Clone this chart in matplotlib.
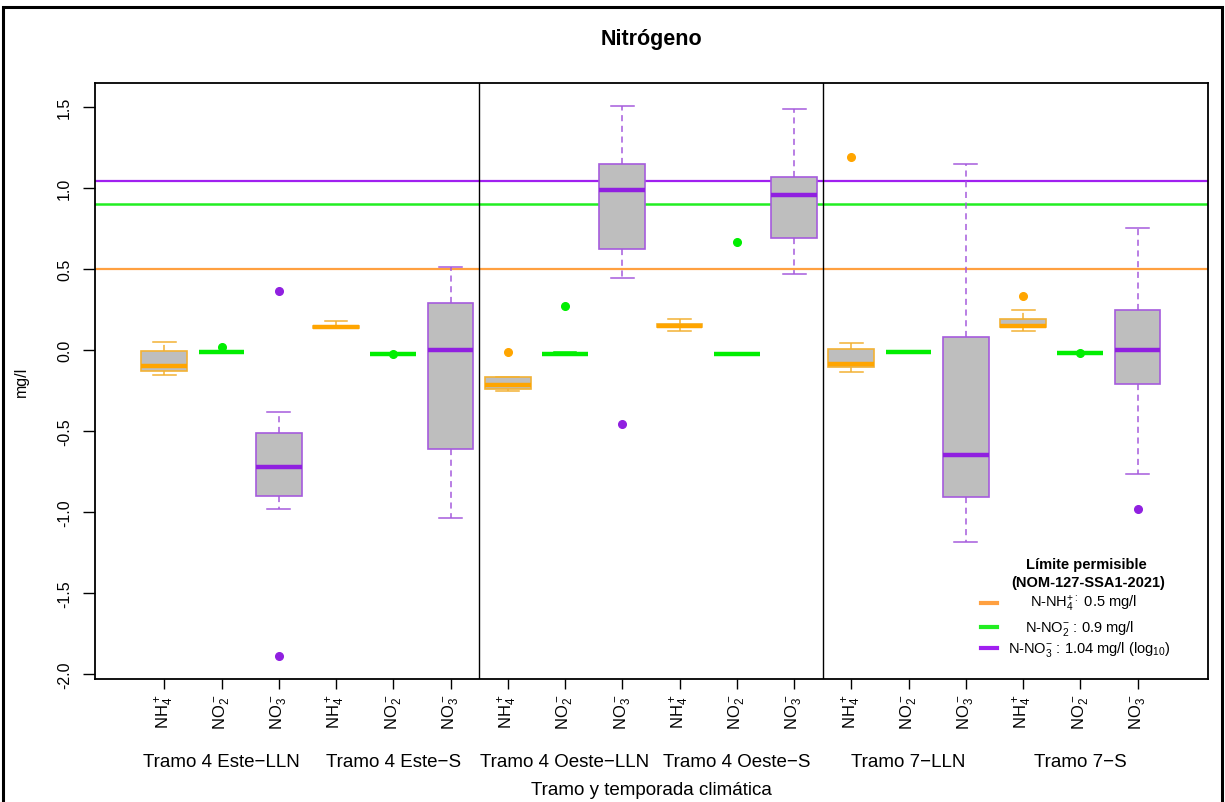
import matplotlib
matplotlib.use("Agg")
import matplotlib.pyplot as plt
from matplotlib.patches import Rectangle
from matplotlib.lines import Line2D

plt.rcParams['font.family'] = ['Liberation Sans', 'DejaVu Sans']
plt.rcParams['mathtext.default'] = 'regular'
plt.rcParams['axes.unicode_minus'] = False

# ---------------- data ----------------
groups = ["Tramo 4 Este\u2212LLN", "Tramo 4 Este\u2212S", "Tramo 4 Oeste\u2212LLN",
          "Tramo 4 Oeste\u2212S", "Tramo 7\u2212LLN", "Tramo 7\u2212S"]
ion_labels = ["NH$_4^+$", "NO$_2^-$", "NO$_3^-$"]

nh4_q1 = [-0.128, 0.138, -0.241, 0.140, -0.107, 0.140]
nh4_med = [-0.100, 0.144, -0.214, 0.150, -0.086, 0.150]
nh4_q3 = [-0.008, 0.150, -0.169, 0.160, 0.006, 0.190]
nh4_lo = [-0.156, 0.138, -0.255, 0.117, -0.134, 0.119]
nh4_hi = [0.047, 0.181, -0.169, 0.191, 0.043, 0.245]
nh4_out = [[], [], [-0.014], [], [1.19], [0.335]]

no2_q1 = [-0.014, -0.027, -0.027, -0.027, -0.014, -0.020]
no2_med = [-0.014, -0.027, -0.025, -0.027, -0.014, -0.020]
no2_q3 = [-0.014, -0.027, -0.022, -0.027, -0.014, -0.020]
no2_lo = [-0.014, -0.027, -0.027, -0.027, -0.014, -0.020]
no2_hi = [-0.014, -0.027, -0.012, -0.027, -0.014, -0.020]
no2_out = [[0.017], [-0.025], [0.273], [0.669], [], [-0.020]]

no3_q1 = [-0.901, -0.611, 0.625, 0.690, -0.909, -0.212]
no3_med = [-0.724, 0.000, 0.986, 0.955, -0.646, -0.002]
no3_q3 = [-0.514, 0.288, 1.146, 1.070, 0.082, 0.245]
no3_lo = [-0.980, -1.037, 0.442, 0.471, -1.183, -0.765]
no3_hi = [-0.380, 0.512, 1.506, 1.486, 1.148, 0.751]
no3_out = [[0.364, -1.890], [], [-0.459], [], [], [-0.980]]

lim_nh4 = 0.5
lim_no2 = 0.9
lim_no3 = 1.04

legend_labels = ["N-NH$_4^{+:}$ 0.5 mg/l", "N-NO$_2^{-}$ : 0.9 mg/l",
                 "N-NO$_3^{-}$ : 1.04 mg/l (log$_{10}$)"]

# ---------------- styles ----------------
FILL = '#BEBEBE'
styles = {
    'nh4': dict(edge='#F2B134', med='#FFA500', line='#FFA040'),
    'no2': dict(edge='#00EE00', med='#00EE00', line='#22EE22'),
    'no3': dict(edge='#A55BDD', med='#9020E0', line='#A020F0'),
}

fig = plt.figure(figsize=(12.25, 8.03), dpi=100)
ax = fig.add_axes([95/1225, 1-680/803, (1208-95)/1225, (680-84)/803])

def make_stats(q1, med, q3, lo, hi, out):
    return [dict(q1=a, med=b, q3=c, whislo=d, whishi=e, fliers=f)
            for a, b, c, d, e, f in zip(q1, med, q3, lo, hi, out)]

series = [
    ('nh4', make_stats(nh4_q1, nh4_med, nh4_q3, nh4_lo, nh4_hi, nh4_out), 1),
    ('no2', make_stats(no2_q1, no2_med, no2_q3, no2_lo, no2_hi, no2_out), 2),
    ('no3', make_stats(no3_q1, no3_med, no3_q3, no3_lo, no3_hi, no3_out), 3),
]

# limit lines (drawn under boxes)
ax.axhline(lim_nh4, color=styles['nh4']['line'], lw=1.6, zorder=1)
ax.axhline(lim_no2, color=styles['no2']['line'], lw=1.8, zorder=1)
ax.axhline(lim_no3, color=styles['no3']['line'], lw=1.6, zorder=1)

for key, stats, off in series:
    st = styles[key]
    pos = [g * 3 + off for g in range(len(groups))]
    ax.bxp(stats, positions=pos, widths=0.8, capwidths=0.4, patch_artist=True,
           boxprops=dict(facecolor=FILL, edgecolor=st['edge'], lw=1.2),
           medianprops=dict(color=st['med'], lw=3.2, solid_capstyle='butt'),
           whiskerprops=dict(color=st['edge'], lw=1.1, linestyle=(0, (4, 3))),
           capprops=dict(color=st['edge'], lw=1.1),
           flierprops=dict(marker='o', markerfacecolor=st['med'],
                           markeredgecolor=st['med'], markersize=5.5),
           manage_ticks=False, zorder=3)

for xv in (6.5, 12.5):
    ax.axvline(xv, color='black', lw=1.0, zorder=2)

ax.set_xlim(-0.21, 19.23)
ax.set_ylim(-2.031, 1.648)

ax.set_yticks([-2.0, -1.5, -1.0, -0.5, 0.0, 0.5, 1.0, 1.5])
ax.set_yticklabels(["-2.0", "-1.5", "-1.0", "-0.5", "0.0", "0.5", "1.0", "1.5"],
                   rotation=90, va='center', fontsize=11.5)
ax.tick_params(axis='y', length=8.5, width=1.0, pad=8)

xt = list(range(1, 3 * len(groups) + 1))
ax.set_xticks(xt)
ax.set_xticklabels(ion_labels * len(groups), rotation=90, ha='center',
                   va='top', fontsize=12)
ax.tick_params(axis='x', length=7, width=1.0, pad=3)

for sp in ax.spines.values():
    sp.set_linewidth(1.3)

for g, name in enumerate(groups):
    ax.text(g * 3 + 2, -0.139, name, transform=ax.get_xaxis_transform(),
            ha='center', va='center', fontsize=13.5)

ax.text(0.5, -0.185, "Tramo y temporada climática", transform=ax.transAxes,
        ha='center', va='center', fontsize=13.5)
ax.set_ylabel("mg/l", fontsize=11.5, labelpad=20)

fig.text(651/1225, 1-40/803, "Nitrógeno", ha='center', va='center',
         fontsize=15.5, fontweight='bold')

# legend (frameless, centered text like the original)
ax.text(0.891, 0.193, "Límite permisible", transform=ax.transAxes,
        ha='center', va='center', fontsize=10.5, fontweight='bold')
ax.text(0.892, 0.163, "(NOM-127-SSA1-2021)", transform=ax.transAxes,
        ha='center', va='center', fontsize=10.5, fontweight='bold')
leg_y = [0.128, 0.087, 0.052]
leg_x = [0.888, 0.885, 0.893]
for key, lab, yy, xx in zip(['nh4', 'no2', 'no3'], legend_labels, leg_y, leg_x):
    ax.add_line(Line2D([0.796, 0.810], [yy, yy], transform=ax.transAxes,
                       color=styles[key]['line'], lw=3))
    ax.text(xx, yy, lab, transform=ax.transAxes, ha='center', va='center',
            fontsize=10.5)

# outer frame
fig.add_artist(Rectangle((3/1225, -0.02), 1219/1225, 1.02 - 8/803,
                         transform=fig.transFigure, fill=False,
                         edgecolor='black', lw=2.2))

fig.savefig("out.png", dpi=100)
